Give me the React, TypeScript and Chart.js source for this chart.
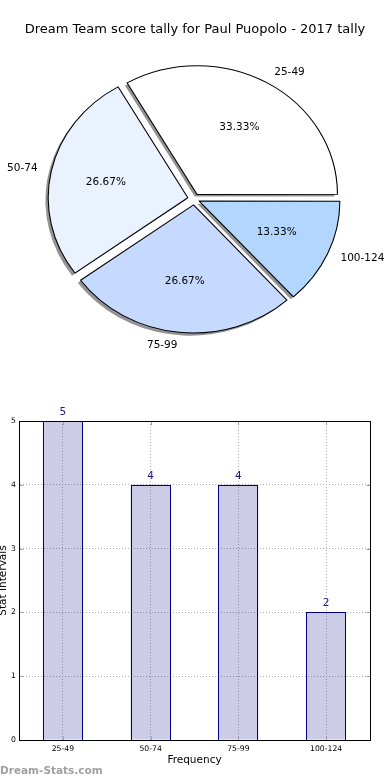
import React, { useEffect, useRef } from "react";
import { Chart, registerables } from "chart.js";

Chart.register(...registerables);

// ---------- data ----------
const TITLE = "Dream Team score tally for Paul Puopolo - 2017 tally";
const categories = ["25-49", "50-74", "75-99", "100-124"];
const counts = [5, 4, 4, 2];
const pieColors = ["#ffffff", "#eaf2ff", "#c6d9ff", "#b3d6ff"];
const yTickMin = 0;
const yTickMax = 5;
const yTickStep = 1;
const X_TITLE = "Frequency";
const Y_TITLE = "Stat Intervals";
const WATERMARK = "Dream-Stats.com";

// ---------- style ----------
const FONT = "'DejaVu Sans', 'Liberation Sans', sans-serif";
const SX = 1.09; // horizontal stretch of the (elliptical) pie
const SHADOW_DX = -2.8;
const SHADOW_DY = 2.6;
const EXPLODE_PX = 6;
const NAVY = "#000080";

function arcShift(arc: any) {
  const p = arc.getProps(["startAngle", "endAngle"], true);
  const circ = p.endAngle - p.startAngle;
  const off = (arc.options.offset || 0) / 4;
  const fix = 1 - Math.sin(Math.min(Math.PI, circ));
  const t = off * (1 + fix);
  const mid = (p.startAngle + p.endAngle) / 2;
  return { mid, dx: Math.cos(mid) * t, dy: Math.sin(mid) * t };
}

const pieStretch = {
  id: "pieStretch",
  beforeDatasetsDraw(chart: any) {
    const ctx = chart.ctx;
    const meta = chart.getDatasetMeta(0);
    const cx = meta.data[0].x;
    ctx.save();
    ctx.translate(cx, 0);
    ctx.scale(SX, 1);
    ctx.translate(-cx, 0);
    meta.data.forEach((arc: any) => {
      const p = arc.getProps(["x", "y", "startAngle", "endAngle", "outerRadius"], true);
      const s = arcShift(arc);
      const px = p.x + s.dx + SHADOW_DX / SX;
      const py = p.y + s.dy + SHADOW_DY;
      ctx.beginPath();
      ctx.moveTo(px, py);
      ctx.arc(px, py, p.outerRadius, p.startAngle, p.endAngle);
      ctx.closePath();
      ctx.fillStyle = "rgba(40,40,40,0.5)";
      ctx.fill();
    });
  },
  afterDatasetsDraw(chart: any) {
    const ctx = chart.ctx;
    ctx.restore();
    const meta = chart.getDatasetMeta(0);
    const labels = chart.data.labels;
    const values = chart.data.datasets[0].data as number[];
    const total = values.reduce((a, b) => a + b, 0);
    ctx.save();
    ctx.fillStyle = "#000";
    ctx.font = `10.5px ${FONT}`;
    ctx.textBaseline = "middle";
    meta.data.forEach((arc: any, i: number) => {
      const p = arc.getProps(["x", "y", "outerRadius"], true);
      const s = arcShift(arc);
      const wx = p.x + s.dx * SX;
      const wy = p.y + s.dy;
      const ux = Math.cos(s.mid);
      const uy = Math.sin(s.mid);
      const R = p.outerRadius;
      ctx.textAlign = "center";
      ctx.fillText(((values[i] / total) * 100).toFixed(2) + "%", wx + 0.6 * R * ux * SX, wy + 0.6 * R * uy);
      ctx.textAlign = ux > 0 ? "left" : "right";
      ctx.fillText(String(labels[i]), wx + 1.1 * R * ux * SX, wy + 1.1 * R * uy);
    });
    ctx.restore();
  },
};

const pieTitle = {
  id: "pieTitle",
  afterDraw(chart: any) {
    const ctx = chart.ctx;
    ctx.save();
    ctx.fillStyle = "#000";
    ctx.font = `13px ${FONT}`;
    ctx.textAlign = "center";
    ctx.textBaseline = "middle";
    ctx.fillText(TITLE, chart.width / 2, 30);
    ctx.restore();
  },
};

const frame = {
  id: "frame",
  afterDraw(chart: any) {
    const { ctx, chartArea, scales } = chart;
    const L = Math.round(chartArea.left) + 0.5;
    const T = Math.round(chartArea.top) + 0.5;
    const R = Math.round(chartArea.right) + 0.5;
    const B = Math.round(chartArea.bottom) + 0.5;
    ctx.save();
    // inward tick marks
    ctx.strokeStyle = "#a0a0a0";
    ctx.lineWidth = 1;
    ctx.beginPath();
    scales.y.ticks.forEach((_t: any, i: number) => {
      const y = Math.round(scales.y.getPixelForTick(i)) + 0.5;
      ctx.moveTo(L, y);
      ctx.lineTo(L + 4, y);
      ctx.moveTo(R, y);
      ctx.lineTo(R - 4, y);
    });
    scales.x.ticks.forEach((_t: any, i: number) => {
      const x = Math.round(scales.x.getPixelForTick(i)) + 0.5;
      ctx.moveTo(x, B);
      ctx.lineTo(x, B - 4);
      ctx.moveTo(x, T);
      ctx.lineTo(x, T + 4);
    });
    ctx.stroke();
    ctx.strokeStyle = "#000";
    ctx.strokeRect(L, T, R - L, B - T);
    ctx.restore();
  },
};

const barEdges = {
  id: "barEdges",
  afterDatasetsDraw(chart: any) {
    const ctx = chart.ctx;
    const meta = chart.getDatasetMeta(0);
    ctx.save();
    ctx.strokeStyle = NAVY;
    ctx.lineWidth = 1;
    meta.data.forEach((bar: any) => {
      const p = bar.getProps(["x", "y", "base", "width"], true);
      const l = Math.round(p.x - p.width / 2);
      const r = Math.round(p.x + p.width / 2) - 1;
      const t = Math.round(p.y);
      const b = Math.round(p.base);
      ctx.strokeRect(l + 0.5, t + 0.5, r - l, b - t);
    });
    ctx.restore();
  },
};

const valueLabels = {
  id: "valueLabels",
  afterDatasetsDraw(chart: any) {
    const ctx = chart.ctx;
    const meta = chart.getDatasetMeta(0);
    const values = chart.data.datasets[0].data as number[];
    ctx.save();
    ctx.fillStyle = "#1a1a8c";
    ctx.font = `10.5px ${FONT}`;
    ctx.textAlign = "center";
    ctx.textBaseline = "middle";
    meta.data.forEach((bar: any, i: number) => {
      ctx.fillText(String(values[i]), bar.x, bar.y - 9);
    });
    ctx.restore();
  },
};

export default function App() {
  const pieRef = useRef<HTMLCanvasElement>(null);
  const barRef = useRef<HTMLCanvasElement>(null);

  useEffect(() => {
    document.body.style.margin = "0";
    const total = counts.reduce((a, b) => a + b, 0);
    const revCounts = [...counts].reverse();
    const revLabels = [...categories].reverse();
    const revColors = [...pieColors].reverse();
    const offsets = revCounts.map((v) => {
      const c = (v / total) * Math.PI * 2;
      const fix = 1 - Math.sin(Math.min(Math.PI, c));
      return (4 * EXPLODE_PX) / (1 + fix);
    });

    const pie = new Chart(pieRef.current!, {
      type: "pie",
      data: {
        labels: revLabels,
        datasets: [
          {
            data: revCounts,
            backgroundColor: revColors,
            borderColor: "#000",
            borderWidth: 1,
            offset: offsets,
            clip: false as any,
          } as any,
        ],
      },
      options: {
        animation: false,
        responsive: false,
        devicePixelRatio: 1,
        rotation: 90,
        layout: { padding: { left: 53.7, right: 55.3, top: 58.5, bottom: 40.5 } },
        plugins: {
          legend: { display: false },
          tooltip: { enabled: false },
          title: { display: false },
        },
      },
      plugins: [pieStretch, pieTitle],
    });

    const bar = new Chart(barRef.current!, {
      type: "bar",
      data: {
        labels: categories,
        datasets: [
          {
            data: counts,
            backgroundColor: "rgba(0,0,128,0.2)",
            borderColor: NAVY,
            borderWidth: 0,
            barPercentage: 0.456,
            categoryPercentage: 1,
          },
        ],
      },
      options: {
        animation: false,
        responsive: false,
        devicePixelRatio: 1,
        layout: { padding: { top: 41, right: 20, left: 0, bottom: 0 } },
        plugins: { legend: { display: false }, tooltip: { enabled: false } },
        scales: {
          x: {
            offset: true,
            grid: { offset: false, color: "#b0b0b0", drawTicks: false, lineWidth: 1 },
            border: { display: true, color: "#000", dash: [1, 2] },
            ticks: { font: { family: FONT, size: 7.7 }, color: "#000", padding: 4, maxRotation: 0 },
            title: {
              display: true,
              text: X_TITLE,
              color: "#000",
              font: { family: FONT, size: 10.5 },
              padding: { top: 0, bottom: 13.7 },
            },
            afterFit: (s: any) => {
              s.height = 40;
            },
          },
          y: {
            min: yTickMin,
            max: yTickMax,
            ticks: { stepSize: yTickStep, font: { family: FONT, size: 7.7 }, color: "#000", padding: 3 },
            grid: { color: "#b0b0b0", drawTicks: false, lineWidth: 1 },
            border: { display: true, color: "#000", dash: [1, 2] },
            title: {
              display: true,
              text: Y_TITLE,
              color: "#000",
              font: { family: FONT, size: 10.5 },
              padding: { top: -2.8, bottom: 0 },
            },
            afterFit: (s: any) => {
              s.width = 19;
            },
          },
        },
      },
      plugins: [barEdges, valueLabels, frame],
    });

    return () => {
      pie.destroy();
      bar.destroy();
    };
  }, []);

  return (
    <div style={{ position: "relative", width: 390, height: 780, background: "#fff", overflow: "hidden" }}>
      <canvas
        ref={pieRef}
        width={390}
        height={380}
        style={{ position: "absolute", left: 0, top: 0, width: 390, height: 380 }}
      />
      <canvas
        ref={barRef}
        width={390}
        height={400}
        style={{ position: "absolute", left: 0, top: 380, width: 390, height: 400 }}
      />
      <div
        style={{
          position: "absolute",
          left: 0,
          top: 764,
          font: `bold 10.5px ${FONT}`,
          lineHeight: "13px",
          color: "#a0a0a0",
          whiteSpace: "nowrap",
        }}
      >
        {WATERMARK}
      </div>
    </div>
  );
}
